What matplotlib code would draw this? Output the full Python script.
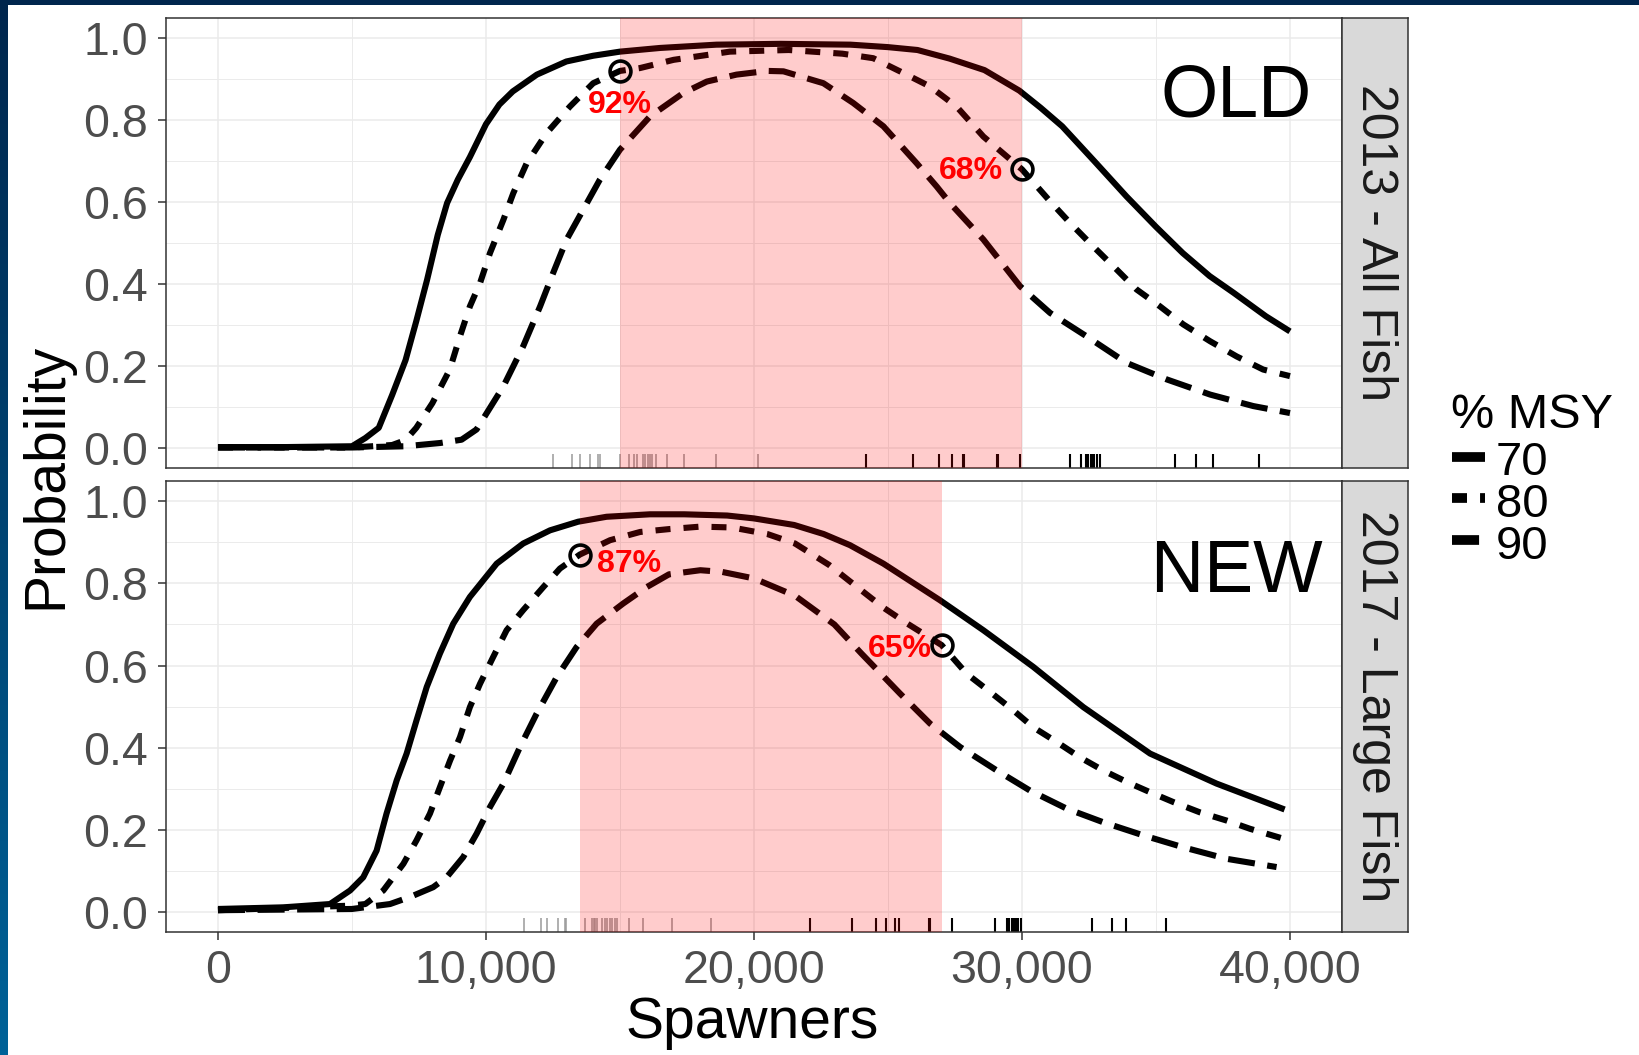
import numpy as np
import matplotlib
matplotlib.use("Agg")
import matplotlib.pyplot as plt
from matplotlib.lines import Line2D
from matplotlib.patches import Rectangle
from matplotlib.transforms import blended_transform_factory

plt.rcParams['font.family'] = ['Liberation Sans', 'DejaVu Sans']
plt.rcParams['lines.scale_dashes'] = False

# ---------------- data ----------------
msy_levels = ["70", "80", "90"]
panel_labels = ["2013 - All Fish", "2017 - Large Fish"]
panel_tags = ["OLD", "NEW"]

# 2013 - All Fish
old_x70 = [0, 2500, 5000, 5500, 6000, 6500, 7000, 7400, 7800, 8200, 8550, 8950, 9400, 10000,
           10500, 11000, 11900, 13000, 14000, 15000, 16500, 18600, 21000, 23600, 25000, 26100,
           27300, 28600, 29900, 30700, 31500, 32700, 33900, 35000, 36000, 37000, 37900, 39100, 40000]
old_y70 = [0.003, 0.003, 0.005, 0.025, 0.05, 0.13, 0.215, 0.31, 0.41, 0.52, 0.598, 0.655, 0.71, 0.79,
           0.838, 0.87, 0.911, 0.943, 0.957, 0.967, 0.976, 0.984, 0.986, 0.984, 0.978, 0.971,
           0.95, 0.922, 0.872, 0.83, 0.785, 0.70, 0.614, 0.54, 0.476, 0.42, 0.379, 0.322, 0.285]

old_x80 = [0, 5000, 6500, 7000, 7400, 8000, 8650, 9030, 9400, 9780, 10150, 10650, 11020, 11520,
           12270, 13130, 14000, 15000, 15750, 17000, 19100, 21300, 23300, 24450, 25570, 26570,
           27560, 28560, 30000, 31050, 31800, 32660, 33530, 34280, 35150, 36020, 37020, 38010,
           39000, 40000]
old_y80 = [0.002, 0.002, 0.008, 0.02, 0.05, 0.11, 0.192, 0.273, 0.346, 0.403, 0.476, 0.557, 0.622, 0.695,
           0.769, 0.833, 0.89, 0.92, 0.927, 0.947, 0.967, 0.971, 0.962, 0.951, 0.915, 0.882,
           0.833, 0.76, 0.68, 0.602, 0.549, 0.492, 0.436, 0.387, 0.346, 0.302, 0.261, 0.224,
           0.192, 0.176]

old_x90 = [0, 5000, 7000, 8300, 9090, 9650, 10030, 10650, 11390, 12020, 12510, 13010, 13630, 14250,
           15000, 16120, 17360, 18240, 19350, 20500, 21100, 22590, 23700, 24830, 26070, 26820,
           27310, 28560, 29930, 31050, 32410, 33910, 35400, 37020, 38630, 40000]
old_y90 = [0.002, 0.002, 0.005, 0.013, 0.021, 0.046, 0.086, 0.151, 0.249, 0.346, 0.428, 0.509, 0.582, 0.655,
           0.728, 0.809, 0.866, 0.894, 0.911, 0.92, 0.919, 0.89, 0.842, 0.785, 0.695, 0.638,
           0.598, 0.509, 0.395, 0.33, 0.273, 0.208, 0.168, 0.131, 0.103, 0.086]

# 2017 - Large Fish
new_x70 = [0, 2440, 4180, 4930, 5420, 5920, 6290, 6670, 7040, 7410, 7790, 8280, 8780, 9400, 10400,
           11390, 12390, 13440, 14500, 16120, 17400, 19000, 20000, 21500, 22600, 23580, 24830,
           26940, 28560, 30420, 32290, 34780, 37260, 39800]
new_y70 = [0.008, 0.012, 0.02, 0.053, 0.085, 0.15, 0.24, 0.321, 0.386, 0.467, 0.548, 0.629, 0.702, 0.767, 0.848,
           0.897, 0.929, 0.95, 0.962, 0.968, 0.968, 0.965, 0.958, 0.942, 0.92, 0.893, 0.848,
           0.759, 0.686, 0.597, 0.499, 0.386, 0.313, 0.25]

new_x80 = [0, 4930, 5500, 6170, 6920, 7410, 7910, 8280, 8660, 9030, 9400, 9780, 10270, 10770, 11390,
           12140, 12760, 13500, 14630, 15750, 16830, 18000, 19180, 20500, 21530, 22800, 23950,
           24830, 25700, 27000, 27940, 28810, 29680, 30420, 31300, 32160, 33030, 33910, 34780,
           35650, 36640, 37640, 38510, 39700]
new_y80 = [0.005, 0.016, 0.02, 0.053, 0.118, 0.175, 0.24, 0.304, 0.369, 0.426, 0.499, 0.556, 0.621, 0.686, 0.735,
           0.791, 0.836, 0.87, 0.905, 0.925, 0.932, 0.938, 0.936, 0.92, 0.897, 0.845, 0.786,
           0.741, 0.703, 0.65, 0.58, 0.536, 0.491, 0.45, 0.414, 0.377, 0.345, 0.317, 0.292,
           0.268, 0.243, 0.223, 0.203, 0.18]

new_x90 = [0, 5000, 6420, 7160, 8030, 8530, 9150, 9650, 10150, 10650, 11270, 11890, 12640, 13380,
           14130, 15120, 16000, 16830, 18000, 18800, 20000, 21530, 23000, 24000, 25450, 26570,
           27690, 29060, 30300, 31670, 33030, 34530, 36020, 37640, 39500]
new_y90 = [0.005, 0.008, 0.02, 0.037, 0.061, 0.085, 0.134, 0.191, 0.256, 0.313, 0.402, 0.483, 0.572, 0.645,
           0.702, 0.751, 0.791, 0.822, 0.832, 0.828, 0.812, 0.77, 0.70, 0.63, 0.532, 0.459,
           0.402, 0.345, 0.296, 0.252, 0.219, 0.187, 0.158, 0.13, 0.11]

# goal ranges and marked probabilities (80% MSY curve)
goal_ranges = [(15000, 30000), (13500, 27000)]
marks_x = [(15000, 30000), (13500, 27000)]
marks_p = [(0.92, 0.68), (0.87, 0.65)]

# observed escapements (rug)
old_rug_early = [12490, 13200, 13510, 13890, 14180, 14240, 15000, 15320, 15510, 15620, 15870,
                 15950, 16030, 16110, 16190, 16330, 16750, 17380, 18580, 20140]
old_rug_late = [24170, 25940, 26900, 27390, 27810, 27850, 29080, 29120, 29940, 31790, 32190,
                32380, 32470, 32570, 32660, 32700, 32790, 32930, 35710, 36510, 37120, 38830]
new_rug_early = [11420, 12050, 12270, 12680, 12940, 13000, 13700, 13950, 14020, 14080, 14140,
                 14330, 14430, 14520, 14610, 14700, 14800, 14900, 15340, 15850, 16960, 18380]
new_rug_late = [22100, 23660, 24550, 24930, 25280, 25410, 26520, 26570, 27390, 28990, 29430,
                29520, 29620, 29710, 29760, 29800, 29850, 29980, 32600, 33370, 33900, 35370]

x_ticks = [0, 10000, 20000, 30000, 40000]
x_tick_labels = ["0", "10,000", "20,000", "30,000", "40,000"]
y_ticks = [0.0, 0.2, 0.4, 0.6, 0.8, 1.0]
y_tick_labels = ["0.0", "0.2", "0.4", "0.6", "0.8", "1.0"]

# ---------------- styling ----------------
W, H = 1640, 1055
fig = plt.figure(figsize=(W / 100, H / 100), dpi=100)
fig.patch.set_facecolor("white")

def fx(px):
    return px / W

def fy(py):
    return 1 - py / H

LW = 4.4
styles = {
    "70": dict(linestyle="-"),
    "80": dict(linestyle=(0, (10.8, 9.4))),
    "90": dict(linestyle=(0, (19.5, 9.0))),
}
GRID = "#EBEBEB"
FRAME = "#333333"
TICKLAB = "#4D4D4D"

# decorative frame of the slide
bg = fig.add_axes([0, 0, 8 / W, 1], zorder=-5)
grad = np.linspace(0, 1, 256).reshape(-1, 1)
cols = np.array([0, 38, 77]) / 255 * (1 - grad) + np.array([0, 98, 152]) / 255 * grad
bg.imshow(cols.reshape(256, 1, 3), aspect="auto", extent=[0, 1, 0, 1], origin="upper")
bg.set_axis_off()
fig.patches.append(Rectangle((0, 1 - 5 / H), 1, 5 / H, transform=fig.transFigure,
                             facecolor="#00264d", edgecolor="none", zorder=-4))

panels = [
    dict(top=18, bottom=468, xs=[old_x70, old_x80, old_x90], ys=[old_y70, old_y80, old_y90],
         rug=(old_rug_early, old_rug_late), tag_y=0.809),
    dict(top=481, bottom=932, xs=[new_x70, new_x80, new_x90], ys=[new_y70, new_y80, new_y90],
         rug=(new_rug_early, new_rug_late), tag_y=0.779),
]
left_px, right_px, strip_right = 165.7, 1341.7, 1408

label_specs = [
    [dict(dx=0, dy=-0.0825, ha="center"), dict(dx=-710, dy=-0.005, ha="right")],
    [dict(dx=630, dy=-0.022, ha="left"), dict(dx=-370, dy=-0.009, ha="right")],
]

for i, p in enumerate(panels):
    ax = fig.add_axes([fx(left_px), fy(p["bottom"]), (right_px - left_px) / W,
                       (p["bottom"] - p["top"]) / H])
    ax.set_xlim(-1950, 41930)
    ax.set_ylim(-0.048, 1.049)

    ax.set_xticks(x_ticks)
    ax.set_xticks([5000, 15000, 25000, 35000], minor=True)
    ax.set_yticks(y_ticks)
    ax.set_yticks([0.1, 0.3, 0.5, 0.7, 0.9], minor=True)
    ax.grid(which="major", color=GRID, linewidth=1.1, zorder=0)
    ax.grid(which="minor", color=GRID, linewidth=0.7, zorder=0)
    ax.set_axisbelow(True)
    ax.set_yticklabels(y_tick_labels, fontsize=33.5, color=TICKLAB)
    ax.tick_params(axis="y", which="major", length=6, width=1.1, color=FRAME, pad=7)
    ax.tick_params(which="minor", length=0)
    if i == 0:
        ax.tick_params(axis="x", which="major", length=0, labelbottom=False)
    else:
        ax.set_xticklabels(x_tick_labels, fontsize=33.5, color=TICKLAB)
        ax.tick_params(axis="x", which="major", length=6, width=1.1, color=FRAME, pad=6)
    for s in ax.spines.values():
        s.set_color(FRAME)
        s.set_linewidth(1.1)

    for lev, xs, ys in zip(msy_levels, p["xs"], p["ys"]):
        ax.plot(xs, ys, color="black", linewidth=LW, solid_capstyle="butt",
                dash_capstyle="butt", solid_joinstyle="round", zorder=3, **styles[lev])

    # rug of observed spawner counts
    tr = blended_transform_factory(ax.transData, ax.transAxes)
    early, late = p["rug"]
    ax.vlines(early, 0, 0.03, transform=tr, colors="#9A9A9A", linewidth=1.1, zorder=2)
    ax.vlines(late, 0, 0.03, transform=tr, colors="black", linewidth=1.5, zorder=2)

    lo, hi = goal_ranges[i]
    ax.axvspan(lo, hi, facecolor="red", alpha=0.2, linewidth=0, zorder=4)

    ax.plot(marks_x[i], marks_p[i], linestyle="none", marker="o", markersize=15,
            markerfacecolor="none", markeredgecolor="black", markeredgewidth=2.6, zorder=5)
    for mx, mp, spec in zip(marks_x[i], marks_p[i], label_specs[i]):
        ax.text(mx + spec["dx"], mp + spec["dy"], f"{round(mp * 100)}%", color="red",
                fontsize=23, fontweight="bold", ha=spec["ha"], va="center", zorder=6)

    ax.text(38000, p["tag_y"], panel_tags[i], fontsize=53, ha="center", va="baseline",
            color="black", zorder=6)

    # facet strip
    sx = fig.add_axes([fx(right_px), fy(p["bottom"]), (strip_right - right_px) / W,
                       (p["bottom"] - p["top"]) / H])
    sx.set_facecolor("#D9D9D9")
    sx.set_xticks([])
    sx.set_yticks([])
    for s in sx.spines.values():
        s.set_color(FRAME)
        s.set_linewidth(1.1)
    sx.text(0.5, 0.5, panel_labels[i], rotation=-90, fontsize=36, color="#1A1A1A",
            ha="center", va="center", transform=sx.transAxes)

fig.text(fx(46), fy(476), "Probability", rotation=90, fontsize=41, ha="center", va="center")
fig.text(fx(752), fy(1038), "Spawners", fontsize=41, ha="center", va="baseline")

# legend
fig.text(fx(1451), fy(428), "% MSY", fontsize=35, ha="left", va="baseline")
key_y = [457, 498, 540]
txt_y = [475, 517, 559]
for lev, ky, ty in zip(msy_levels, key_y, txt_y):
    fig.add_artist(Line2D([fx(1452), fx(1485)], [fy(ky), fy(ky)], transform=fig.transFigure,
                          color="black", linewidth=7, dash_capstyle="butt",
                          solid_capstyle="butt", **styles[lev]))
    fig.text(fx(1496), fy(ty), lev, fontsize=34, ha="left", va="baseline")

fig.savefig("out.png", dpi=100)
